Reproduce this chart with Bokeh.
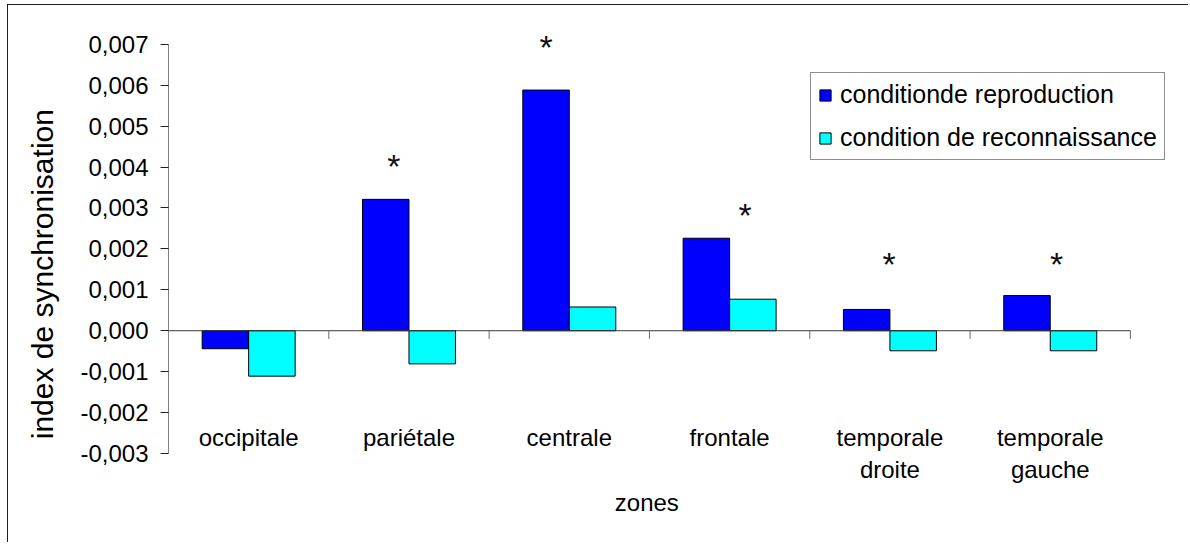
from bokeh.plotting import figure
from bokeh.models import (Range1d, FixedTicker, CustomJSTickFormatter,
                          Legend, LegendItem, ColumnDataSource)
from bokeh.transform import dodge
from bokeh.core.properties import value
from bokeh.embed import file_html
from bokeh.resources import INLINE

# ---- data ----
zones = ["occipitale", "pariétale", "centrale", "frontale",
         "temporale\ndroite", "temporale\ngauche"]
reproduction = [-0.00044, 0.00321, 0.00588, 0.00226, 0.00052, 0.00086]
reconnaissance = [-0.00111, -0.00081, 0.00058, 0.00077, -0.00049, -0.00049]
y_ticks = [-0.003, -0.002, -0.001, 0.000, 0.001, 0.002, 0.003, 0.004, 0.005, 0.006, 0.007]
series_names = ["conditionde reproduction", "condition de reconnaissance"]
# significance markers: zone index, horizontal offset within zone, height
star_zone = [1, 2, 3, 4, 5]
star_off = [-0.095, -0.145, 0.097, -0.005, 0.04]
star_y = [0.0041, 0.0070, 0.0029, 0.0017, 0.0017]

FONT = "Liberation Sans"
FS = "24px"

n = len(zones)
xc = [i + 0.5 for i in range(n)]          # category centres on the zone scale
src = ColumnDataSource(dict(xc=xc, rep=reproduction, rec=reconnaissance))

p = figure(width=1181, height=538, x_range=Range1d(0, 6.3),
           y_range=Range1d(y_ticks[0], 0.0078),
           output_backend="svg", toolbar_location=None,
           min_border_left=160, min_border_right=11,
           min_border_top=6, min_border_bottom=90)
p.styles = {"margin-top": "4px", "margin-left": "7px",
            "border-top": "1px solid #1e1e1e", "border-left": "1px solid #1e1e1e"}
p.outline_line_color = None
p.xgrid.visible = False
p.ygrid.visible = False
p.background_fill_color = "white"
p.border_fill_color = "white"

w = 0.29
r1 = p.vbar(x=dodge("xc", -w / 2), top="rep", bottom=0, width=w,
            source=src, fill_color="#0000FF", line_color="black", line_width=1)
r2 = p.vbar(x=dodge("xc", w / 2), top="rec", bottom=0, width=w,
            source=src, fill_color="#00FFFF", line_color="black", line_width=1)

# zero line (category axis) with boundary ticks
bounds = list(range(n + 1))
p.segment(x0=[0], x1=[n], y0=[0], y1=[0], line_color="#3a3a3a", line_width=1)
p.segment(x0=bounds, x1=bounds, y0=[0] * len(bounds), y1=[-0.0002] * len(bounds),
          line_color="#6a6a6a", line_width=1)

# asterisks
sx = [z + 0.5 + o for z, o in zip(star_zone, star_off)]
p.text(x=sx, y=star_y, text=["*"] * len(sx), text_font=value(FONT),
       text_font_size="34px", text_align="center", text_baseline="alphabetic",
       y_offset=3, text_color="#111111")

# y axis
ya = p.yaxis[0]
ya.bounds = (y_ticks[0], y_ticks[-1])
ya.ticker = FixedTicker(ticks=y_ticks)
ya.formatter = CustomJSTickFormatter(code="return tick.toFixed(3).replace('.', ',');")
ya.axis_line_color = "#808080"
ya.major_tick_line_color = "#202020"
ya.major_tick_out = 8
ya.major_tick_in = 0
ya.minor_tick_line_color = None
ya.major_label_standoff = 12
ya.major_label_text_font = FONT
ya.major_label_text_font_size = FS
ya.major_label_text_color = "black"
ya.axis_label = "index de synchronisation" + "\u00a0" * 10
ya.axis_label_text_font = FONT
ya.axis_label_text_font_size = "30px"
ya.axis_label_text_font_style = "normal"
ya.axis_label_text_color = "black"
ya.axis_label_standoff = 18

# x axis (category labels only)
xa = p.xaxis[0]
xa.ticker = FixedTicker(ticks=xc)
xa.major_label_overrides = {x: z for x, z in zip(xc, zones)}
xa.axis_line_color = None
xa.major_tick_line_color = None
xa.minor_tick_line_color = None
xa.major_label_standoff = -36
xa.major_label_text_font = FONT
xa.major_label_text_font_size = FS
xa.major_label_text_color = "black"
xa.axis_label = "zones" + "\u00a0" * 8
xa.axis_label_text_font = FONT
xa.axis_label_text_font_size = FS
xa.axis_label_text_font_style = "normal"
xa.axis_label_text_color = "black"
xa.axis_label_standoff = 3

legend = Legend(items=[LegendItem(label=series_names[0], renderers=[r1]),
                       LegendItem(label=series_names[1], renderers=[r2])],
                location=(642, 293), orientation="vertical",
                label_text_font=FONT, label_text_font_size="25px",
                label_text_color="black",
                glyph_width=14, glyph_height=14, label_standoff=8,
                padding=7, spacing=14, margin=0,
                border_line_color="#1e1e1e", border_line_width=1,
                background_fill_color="white", background_fill_alpha=1)
p.add_layout(legend, "center")

open("out.html", "w").write(file_html(p, INLINE))
